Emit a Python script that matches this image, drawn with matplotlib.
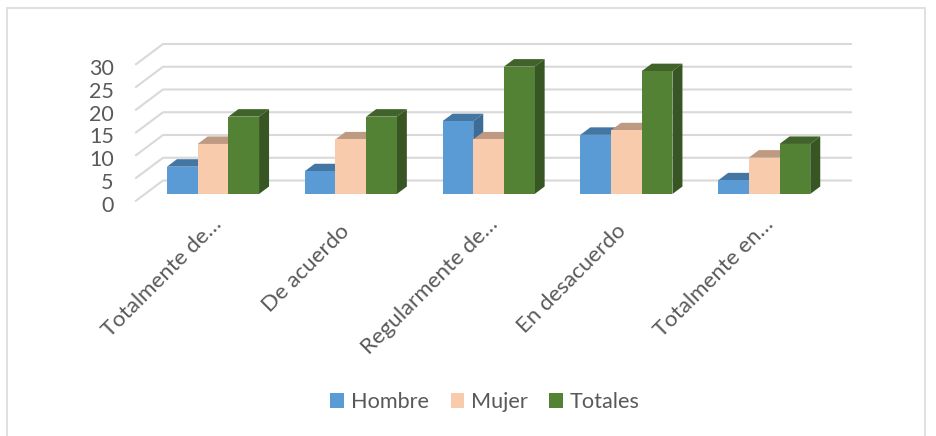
"""Fake 3D clustered columns, office style"""
import matplotlib as mpl
mpl.use('Agg')
import matplotlib.pyplot as plt
from matplotlib.patches import Patch, Polygon, Rectangle
from matplotlib.transforms import ScaledTranslation

categories = ['Totalmente de…', 'De acuerdo', 'Regularmente de…', 'En desacuerdo', 'Totalmente en…']
hombre = [6, 5, 16, 13, 3]
mujer = [11, 12, 12, 14, 8]
totales = [17, 17, 28, 27, 11]
series_names = ['Hombre', 'Mujer', 'Totales']
y_ticks = [0, 5, 10, 15, 20, 25, 30]

W, H = 936, 436
STEP = 137.8    # px per category
UNIT = 4.55     # px per value
BASE = 194      # px of front floor of the bars
CX0 = 213       # px centre of first group

plt.rcParams['font.family'] = ['Lato', 'DejaVu Sans']
TEXT = '#595959'
GRID = '#D9D9D9'
front = ['#5B9BD5', '#F8CBAD', '#548235']
top = ['#4476A3', '#BE9A83', '#40632A']
side = ['#3D6C97', '#BE9A83', '#375623']

fig = plt.figure(figsize=(W/100, H/100), dpi=100)
fig.add_artist(Rectangle((7/W, -0.01), (925-7)/W, (H-8)/H + 0.01, fill=False, ec='#DDDDDD', lw=1.3,
                         transform=fig.transFigure))

left, right, upper = 136, 851, 44
ax = fig.add_axes([left/W, (H-BASE)/H, (right-left)/W, (BASE-upper)/H])
ax.set_xlim((left-CX0)/STEP, (right-CX0)/STEP)
ax.set_ylim(0, (BASE-upper)/UNIT)
for spine in ax.spines.values():
    spine.set_visible(False)
ax.patch.set_visible(False)

# depth of bars and of the floor, in data units
dx = 10/STEP
dy = 7.5/UNIT
bar_w = 30.7/STEP
back = 13.5/UNIT
fore = -6.7/UNIT
wall_x = (163-CX0)/STEP
x_left = (136-CX0)/STEP
x_right = (851-CX0)/STEP

for v in y_ticks:
    ax.plot([x_left, wall_x, x_right], [v+fore, v+back, v+back], color=GRID, lw=1.5,
            clip_on=False, zorder=1, solid_joinstyle='miter')

for i, cat in enumerate(categories):
    for j, vals in enumerate([hombre, mujer, totales]):
        v = vals[i]
        x0 = i + (j-1.5)*bar_w
        x1 = x0 + bar_w
        z = 2 + i*3 + j
        ax.add_patch(Polygon([(x0, v), (x0+dx, v+dy), (x1+dx, v+dy), (x1, v)], fc=top[j], ec='none',
                             clip_on=False, zorder=z))
        ax.add_patch(Polygon([(x1, 0), (x1+dx, dy), (x1+dx, v+dy), (x1, v)], fc=side[j], ec='none',
                             clip_on=False, zorder=z))
        ax.add_patch(Rectangle((x0, 0), bar_w, v, fc=front[j], ec='none', clip_on=False, zorder=z+0.5))

ax.set_yticks(y_ticks)
ax.set_yticklabels([str(v) for v in y_ticks], fontsize=15.5, color=TEXT)
ax.set_xticks(range(len(categories)))
ax.set_xticklabels(categories, fontsize=16, color=TEXT, rotation=45, ha='right', rotation_mode='anchor')
ax.tick_params(axis='both', length=0)
ax.tick_params(axis='y', pad=16)
ax.tick_params(axis='x', pad=13)

y_off = ScaledTranslation(0, -7/72, fig.dpi_scale_trans)
for lab in ax.get_yticklabels():
    lab.set_transform(lab.get_transform() + y_off)
# truncated labels sit further along the slant than the whole ones
for lab, cat in zip(ax.get_xticklabels(), categories):
    if cat.endswith('…'):
        off = ScaledTranslation(-1/72, -1.5/72, fig.dpi_scale_trans)
    else:
        off = ScaledTranslation(-8/72, -6.5/72, fig.dpi_scale_trans)
    lab.set_transform(lab.get_transform() + off)

handles = [Patch(fc=c, ec='none', label=n) for c, n in zip(front, series_names)]
fig.legend(handles=handles, loc='center', bbox_to_anchor=(485/W, (H-402)/H), ncol=3, frameon=False,
           fontsize=15.6, labelcolor=TEXT, handlelength=0.64, handleheight=0.64, handletextpad=0.3,
           columnspacing=1.0, borderpad=0, borderaxespad=0)

fig.savefig('out.png', dpi=100)
